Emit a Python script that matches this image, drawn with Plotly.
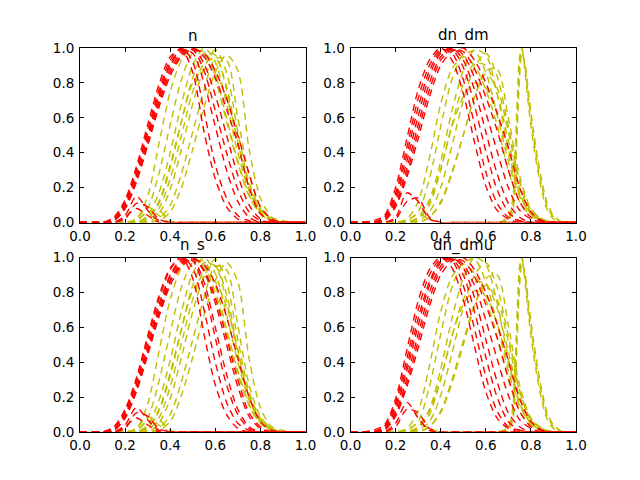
import plotly.graph_objects as go

# common x grid for the bell-shaped curves
X = [0.0, 0.05, 0.1, 0.15, 0.2, 0.25, 0.3, 0.35, 0.4, 0.45, 0.5,
     0.55, 0.6, 0.65, 0.7, 0.75, 0.8, 0.85, 0.9, 0.95, 1.0]

TICK_VALS = [0.0, 0.2, 0.4, 0.6, 0.8, 1.0]
TICK_TEXT = ["0.0", "0.2", "0.4", "0.6", "0.8", "1.0"]
TITLES = ["n", "dn_dm", "n_s", "dn_dmu"]

# ---------------- panel "n" ----------------
N_RED = [
    [0, 0, 0, 0.03, 0.13, 0.32, 0.56, 0.79, 0.95, 0.99, 0.86, 0.52, 0.25, 0.09, 0.02, 0, 0, 0, 0, 0, 0],
    [0, 0, 0, 0.02, 0.12, 0.30, 0.53, 0.76, 0.93, 1.00, 0.92, 0.64, 0.33, 0.14, 0.04, 0.01, 0, 0, 0, 0, 0],
    [0, 0, 0, 0.02, 0.11, 0.29, 0.51, 0.74, 0.91, 0.99, 0.97, 0.80, 0.55, 0.30, 0.12, 0.03, 0, 0, 0, 0, 0],
    [0, 0, 0, 0.01, 0.10, 0.27, 0.49, 0.72, 0.90, 0.98, 0.99, 0.87, 0.64, 0.40, 0.19, 0.06, 0.01, 0, 0, 0, 0],
    [0, 0, 0, 0.01, 0.09, 0.26, 0.47, 0.70, 0.88, 0.97, 1.00, 0.91, 0.73, 0.50, 0.27, 0.10, 0.02, 0, 0, 0, 0],
    [0, 0, 0, 0.01, 0.08, 0.24, 0.45, 0.68, 0.86, 0.96, 1.00, 0.95, 0.83, 0.65, 0.45, 0.20, 0.05, 0.01, 0, 0, 0],
    [0, 0, 0, 0.01, 0.08, 0.23, 0.44, 0.66, 0.84, 0.95, 0.99, 0.97, 0.87, 0.71, 0.50, 0.28, 0.09, 0.02, 0, 0, 0],
]
N_RED_BUMPS = [
    [0, 0, 0, 0, 0.04, 0.15, 0.07, 0.01, 0, 0, 0, 0, 0, 0, 0, 0, 0, 0, 0, 0, 0],
    [0, 0, 0, 0, 0.02, 0.11, 0.09, 0.02, 0, 0, 0, 0, 0, 0, 0, 0, 0, 0, 0, 0, 0],
    [0, 0, 0, 0, 0.03, 0.08, 0.04, 0, 0, 0, 0, 0, 0, 0, 0, 0, 0, 0, 0, 0, 0],
]
N_YEL = [
    [0, 0, 0, 0, 0, 0.02, 0.15, 0.45, 0.75, 0.93, 1.00, 0.96, 0.82, 0.58, 0.34, 0.15, 0.05, 0.01, 0, 0, 0],
    [0, 0, 0, 0, 0, 0.01, 0.08, 0.28, 0.56, 0.82, 0.97, 0.98, 0.85, 0.60, 0.35, 0.16, 0.05, 0.01, 0, 0, 0],
    [0, 0, 0, 0, 0, 0, 0.04, 0.17, 0.40, 0.68, 0.90, 1.00, 0.92, 0.68, 0.40, 0.18, 0.06, 0.01, 0, 0, 0],
    [0, 0, 0, 0, 0, 0, 0.02, 0.11, 0.31, 0.58, 0.83, 0.97, 0.96, 0.76, 0.45, 0.20, 0.07, 0.02, 0, 0, 0],
    [0, 0, 0, 0, 0, 0, 0.01, 0.08, 0.25, 0.50, 0.75, 0.91, 0.94, 0.78, 0.46, 0.20, 0.07, 0.02, 0, 0, 0],
    [0, 0, 0, 0, 0, 0, 0, 0.05, 0.19, 0.42, 0.68, 0.88, 0.99, 0.86, 0.52, 0.23, 0.08, 0.02, 0, 0, 0],
    [0, 0, 0, 0, 0, 0, 0, 0.02, 0.10, 0.28, 0.52, 0.76, 0.94, 0.93, 0.60, 0.27, 0.09, 0.02, 0, 0, 0],
    [0, 0, 0, 0, 0, 0, 0, 0.01, 0.06, 0.20, 0.42, 0.66, 0.86, 0.96, 0.87, 0.42, 0.14, 0.03, 0.01, 0, 0],
    [0, 0, 0, 0, 0, 0, 0.03, 0.12, 0.33, 0.58, 0.80, 0.88, 0.85, 0.72, 0.46, 0.20, 0.07, 0.02, 0, 0, 0],
]
N_YEL_BUMPS = [
    [0, 0, 0, 0, 0, 0.02, 0.09, 0.04, 0, 0, 0, 0, 0, 0, 0, 0, 0, 0, 0, 0, 0],
    [0, 0, 0, 0, 0, 0.01, 0.06, 0.07, 0.01, 0, 0, 0, 0, 0, 0, 0, 0, 0, 0, 0, 0],
]

# ---------------- panel "n_s" ----------------
NS_RED = [
    [0, 0, 0, 0.03, 0.13, 0.31, 0.55, 0.78, 0.94, 1.00, 0.88, 0.56, 0.27, 0.10, 0.02, 0, 0, 0, 0, 0, 0],
    [0, 0, 0, 0.02, 0.12, 0.30, 0.53, 0.76, 0.93, 1.00, 0.94, 0.70, 0.40, 0.17, 0.05, 0.01, 0, 0, 0, 0, 0],
    [0, 0, 0, 0.02, 0.11, 0.28, 0.50, 0.73, 0.90, 0.99, 0.98, 0.82, 0.54, 0.27, 0.10, 0.02, 0, 0, 0, 0, 0],
    [0, 0, 0, 0.01, 0.10, 0.27, 0.48, 0.71, 0.89, 0.98, 0.99, 0.86, 0.60, 0.33, 0.13, 0.03, 0, 0, 0, 0, 0],
    [0, 0, 0, 0.01, 0.09, 0.25, 0.46, 0.69, 0.87, 0.97, 1.00, 0.92, 0.74, 0.50, 0.26, 0.09, 0.02, 0, 0, 0, 0],
    [0, 0, 0, 0.01, 0.08, 0.24, 0.45, 0.67, 0.86, 0.96, 1.00, 0.93, 0.77, 0.54, 0.30, 0.11, 0.03, 0, 0, 0, 0],
    [0, 0, 0, 0.01, 0.08, 0.23, 0.44, 0.66, 0.84, 0.95, 0.99, 0.96, 0.85, 0.66, 0.42, 0.20, 0.06, 0.01, 0, 0, 0],
]
NS_RED_BUMPS = [
    [0, 0, 0, 0, 0.04, 0.14, 0.07, 0.01, 0, 0, 0, 0, 0, 0, 0, 0, 0, 0, 0, 0, 0],
    [0, 0, 0, 0, 0.02, 0.11, 0.09, 0.02, 0, 0, 0, 0, 0, 0, 0, 0, 0, 0, 0, 0, 0],
    [0, 0, 0, 0, 0.03, 0.08, 0.04, 0, 0, 0, 0, 0, 0, 0, 0, 0, 0, 0, 0, 0, 0],
]
NS_YEL = [
    [0, 0, 0, 0, 0, 0.02, 0.16, 0.46, 0.76, 0.94, 1.00, 0.95, 0.80, 0.56, 0.33, 0.15, 0.05, 0.01, 0, 0, 0],
    [0, 0, 0, 0, 0, 0.01, 0.08, 0.29, 0.57, 0.83, 0.97, 0.98, 0.84, 0.59, 0.35, 0.16, 0.05, 0.01, 0, 0, 0],
    [0, 0, 0, 0, 0, 0, 0.04, 0.18, 0.41, 0.69, 0.91, 1.00, 0.91, 0.67, 0.40, 0.18, 0.06, 0.01, 0, 0, 0],
    [0, 0, 0, 0, 0, 0, 0.02, 0.12, 0.32, 0.59, 0.84, 0.97, 0.95, 0.75, 0.45, 0.20, 0.07, 0.02, 0, 0, 0],
    [0, 0, 0, 0, 0, 0, 0.01, 0.08, 0.26, 0.51, 0.76, 0.92, 0.95, 0.79, 0.47, 0.21, 0.07, 0.02, 0, 0, 0],
    [0, 0, 0, 0, 0, 0, 0, 0.05, 0.19, 0.43, 0.69, 0.89, 0.99, 0.86, 0.53, 0.23, 0.08, 0.02, 0, 0, 0],
    [0, 0, 0, 0, 0, 0, 0, 0.02, 0.10, 0.29, 0.53, 0.77, 0.95, 0.93, 0.61, 0.27, 0.09, 0.02, 0, 0, 0],
    [0, 0, 0, 0, 0, 0, 0, 0.01, 0.06, 0.21, 0.43, 0.67, 0.87, 0.97, 0.86, 0.42, 0.14, 0.03, 0.01, 0, 0],
    [0, 0, 0, 0, 0, 0, 0.03, 0.13, 0.34, 0.59, 0.81, 0.89, 0.86, 0.72, 0.46, 0.20, 0.07, 0.02, 0, 0, 0],
]
NS_YEL_BUMPS = [
    [0, 0, 0, 0, 0, 0.02, 0.09, 0.04, 0, 0, 0, 0, 0, 0, 0, 0, 0, 0, 0, 0, 0],
    [0, 0, 0, 0, 0, 0.01, 0.06, 0.07, 0.01, 0, 0, 0, 0, 0, 0, 0, 0, 0, 0, 0, 0],
]

# ---------------- panel "dn_dm" ----------------
DM_RED = [
    [0, 0, 0.01, 0.04, 0.20, 0.48, 0.76, 0.93, 1.00, 0.93, 0.74, 0.46, 0.21, 0.07, 0.02, 0, 0, 0, 0, 0, 0],
    [0, 0, 0, 0.03, 0.17, 0.43, 0.71, 0.90, 0.99, 0.97, 0.82, 0.56, 0.29, 0.11, 0.03, 0.01, 0, 0, 0, 0, 0],
    [0, 0, 0, 0.03, 0.15, 0.39, 0.66, 0.87, 0.98, 0.99, 0.89, 0.67, 0.41, 0.19, 0.06, 0.01, 0, 0, 0, 0, 0],
    [0, 0, 0, 0.02, 0.13, 0.35, 0.61, 0.84, 0.97, 1.00, 0.93, 0.76, 0.52, 0.28, 0.11, 0.03, 0, 0, 0, 0, 0],
    [0, 0, 0, 0.02, 0.11, 0.31, 0.56, 0.80, 0.95, 1.00, 0.96, 0.83, 0.63, 0.41, 0.20, 0.07, 0.02, 0, 0, 0, 0],
    [0, 0, 0, 0.01, 0.10, 0.28, 0.52, 0.76, 0.93, 0.99, 0.98, 0.88, 0.72, 0.53, 0.30, 0.12, 0.03, 0.01, 0, 0, 0],
    [0, 0, 0, 0.01, 0.09, 0.26, 0.48, 0.72, 0.90, 0.98, 1.00, 0.93, 0.80, 0.63, 0.43, 0.20, 0.06, 0.01, 0, 0, 0],
]
DM_RED_BUMPS = [
    [0, 0, 0, 0, 0.03, 0.17, 0.12, 0.02, 0, 0, 0, 0, 0, 0, 0, 0, 0, 0, 0, 0, 0],
    [0, 0, 0, 0, 0.02, 0.12, 0.14, 0.03, 0, 0, 0, 0, 0, 0, 0, 0, 0, 0, 0, 0, 0],
]
DM_YEL = [
    [0, 0, 0, 0, 0, 0.02, 0.12, 0.37, 0.68, 0.88, 0.95, 0.90, 0.76, 0.56, 0.30, 0.12, 0.04, 0.01, 0, 0, 0],
    [0, 0, 0, 0, 0, 0.01, 0.06, 0.25, 0.55, 0.82, 0.96, 0.98, 0.86, 0.62, 0.35, 0.15, 0.05, 0.01, 0, 0, 0],
    [0, 0, 0, 0, 0, 0, 0.03, 0.13, 0.35, 0.64, 0.87, 0.99, 0.96, 0.74, 0.42, 0.17, 0.05, 0.01, 0, 0, 0],
    [0, 0, 0, 0, 0, 0, 0.02, 0.10, 0.30, 0.56, 0.79, 0.91, 0.90, 0.74, 0.47, 0.20, 0.06, 0.01, 0, 0, 0],
    [0, 0, 0, 0, 0, 0, 0.01, 0.06, 0.20, 0.44, 0.70, 0.89, 0.97, 0.84, 0.55, 0.24, 0.07, 0.02, 0, 0, 0],
    [0, 0, 0, 0, 0, 0, 0, 0.03, 0.12, 0.29, 0.50, 0.72, 0.85, 0.77, 0.52, 0.23, 0.07, 0.02, 0, 0, 0],
    [0, 0, 0, 0, 0, 0, 0, 0.03, 0.11, 0.28, 0.50, 0.72, 0.87, 0.88, 0.60, 0.27, 0.08, 0.02, 0, 0, 0],
    [0, 0, 0, 0, 0, 0, 0.03, 0.12, 0.31, 0.55, 0.72, 0.80, 0.77, 0.62, 0.39, 0.16, 0.05, 0.01, 0, 0, 0],
]
DM_YEL_BUMPS = [
    [0, 0, 0, 0, 0, 0.01, 0.05, 0.02, 0, 0, 0, 0, 0, 0, 0, 0, 0, 0, 0, 0, 0],
]
# narrow spike near x = 0.76 (own x positions)
SPIKE_X = [0.66, 0.70, 0.72, 0.73, 0.74, 0.75, 0.76, 0.775, 0.79, 0.81, 0.83, 0.85, 0.87, 0.90, 0.94]
DM_SPIKES = [
    [0, 0.02, 0.10, 0.30, 0.62, 0.90, 1.00, 0.88, 0.70, 0.50, 0.33, 0.20, 0.10, 0.03, 0],
    [0, 0.03, 0.14, 0.38, 0.72, 0.95, 0.99, 0.85, 0.66, 0.46, 0.30, 0.17, 0.08, 0.02, 0],
    [0, 0.01, 0.07, 0.24, 0.55, 0.84, 0.97, 0.90, 0.74, 0.54, 0.37, 0.23, 0.12, 0.04, 0],
]

# ---------------- panel "dn_dmu" ----------------
DMU_RED = [
    [0, 0, 0.01, 0.04, 0.19, 0.47, 0.75, 0.93, 1.00, 0.94, 0.76, 0.49, 0.23, 0.08, 0.02, 0, 0, 0, 0, 0, 0],
    [0, 0, 0, 0.03, 0.17, 0.42, 0.70, 0.90, 0.99, 0.98, 0.84, 0.59, 0.32, 0.12, 0.03, 0.01, 0, 0, 0, 0, 0],
    [0, 0, 0, 0.03, 0.15, 0.38, 0.65, 0.86, 0.98, 0.99, 0.90, 0.69, 0.43, 0.20, 0.06, 0.01, 0, 0, 0, 0, 0],
    [0, 0, 0, 0.02, 0.13, 0.35, 0.61, 0.84, 0.97, 1.00, 0.94, 0.77, 0.53, 0.29, 0.11, 0.03, 0, 0, 0, 0, 0],
    [0, 0, 0, 0.02, 0.11, 0.31, 0.56, 0.80, 0.95, 1.00, 0.96, 0.84, 0.64, 0.42, 0.21, 0.07, 0.02, 0, 0, 0, 0],
    [0, 0, 0, 0.01, 0.10, 0.28, 0.52, 0.76, 0.93, 0.99, 0.98, 0.89, 0.73, 0.54, 0.31, 0.12, 0.03, 0.01, 0, 0, 0],
    [0, 0, 0, 0.01, 0.09, 0.26, 0.48, 0.72, 0.90, 0.98, 1.00, 0.93, 0.80, 0.62, 0.41, 0.19, 0.06, 0.01, 0, 0, 0],
]
DMU_RED_BUMPS = [
    [0, 0, 0, 0, 0.05, 0.17, 0.08, 0.01, 0, 0, 0, 0, 0, 0, 0, 0, 0, 0, 0, 0, 0],
    [0, 0, 0, 0, 0.03, 0.13, 0.11, 0.02, 0, 0, 0, 0, 0, 0, 0, 0, 0, 0, 0, 0, 0],
]
DMU_YEL = [
    [0, 0, 0, 0, 0, 0.02, 0.12, 0.38, 0.69, 0.89, 0.96, 0.91, 0.76, 0.55, 0.30, 0.12, 0.04, 0.01, 0, 0, 0],
    [0, 0, 0, 0, 0, 0.01, 0.06, 0.26, 0.56, 0.83, 0.97, 0.99, 0.86, 0.62, 0.35, 0.15, 0.05, 0.01, 0, 0, 0],
    [0, 0, 0, 0, 0, 0, 0.03, 0.13, 0.36, 0.65, 0.88, 1.00, 0.96, 0.74, 0.42, 0.17, 0.05, 0.01, 0, 0, 0],
    [0, 0, 0, 0, 0, 0, 0.02, 0.10, 0.30, 0.55, 0.76, 0.86, 0.85, 0.71, 0.46, 0.20, 0.06, 0.01, 0, 0, 0],
    [0, 0, 0, 0, 0, 0, 0.01, 0.06, 0.21, 0.45, 0.71, 0.90, 0.97, 0.83, 0.55, 0.24, 0.07, 0.02, 0, 0, 0],
    [0, 0, 0, 0, 0, 0, 0, 0.03, 0.12, 0.30, 0.52, 0.73, 0.84, 0.76, 0.52, 0.23, 0.07, 0.02, 0, 0, 0],
    [0, 0, 0, 0, 0, 0, 0, 0.03, 0.11, 0.28, 0.50, 0.72, 0.88, 0.90, 0.61, 0.27, 0.08, 0.02, 0, 0, 0],
    [0, 0, 0, 0, 0, 0, 0.03, 0.12, 0.31, 0.55, 0.73, 0.81, 0.78, 0.62, 0.39, 0.16, 0.05, 0.01, 0, 0, 0],
]
DMU_YEL_BUMPS = [
    [0, 0, 0, 0, 0, 0.01, 0.05, 0.02, 0, 0, 0, 0, 0, 0, 0, 0, 0, 0, 0, 0, 0],
]
DMU_SPIKES = [
    [0, 0.02, 0.10, 0.30, 0.62, 0.90, 1.00, 0.88, 0.70, 0.50, 0.33, 0.20, 0.10, 0.03, 0],
    [0, 0.03, 0.14, 0.38, 0.72, 0.95, 0.99, 0.85, 0.66, 0.46, 0.30, 0.17, 0.08, 0.02, 0],
    [0, 0.01, 0.07, 0.24, 0.55, 0.84, 0.97, 0.90, 0.74, 0.54, 0.37, 0.23, 0.12, 0.04, 0],
]

RED = "#ff0000"
YELLOW = "#bfbf00"

PANELS = [
    # (axis suffix, yellow curves, yellow bumps, spikes, red curves, red bumps)
    ("", N_YEL, N_YEL_BUMPS, [], N_RED, N_RED_BUMPS),
    ("2", DM_YEL, DM_YEL_BUMPS, DM_SPIKES, DM_RED, DM_RED_BUMPS),
    ("3", NS_YEL, NS_YEL_BUMPS, [], NS_RED, NS_RED_BUMPS),
    ("4", DMU_YEL, DMU_YEL_BUMPS, DMU_SPIKES, DMU_RED, DMU_RED_BUMPS),
]

fig = go.Figure()


def add(xs, ys, color, sfx):
    fig.add_trace(go.Scatter(
        x=xs, y=ys, mode="lines", xaxis="x" + sfx, yaxis="y" + sfx,
        line=dict(color=color, width=1.4, dash="7px,5px", shape="spline", smoothing=0.8),
        hoverinfo="skip", showlegend=False))


for sfx, yel, ybump, spikes, red, rbump in PANELS:
    for ys in yel:
        add(X, ys, YELLOW, sfx)
    for ys in ybump:
        add(X, ys, YELLOW, sfx)
    for ys in spikes:
        add(SPIKE_X, ys, YELLOW, sfx)
    for ys in red:
        add(X, ys, RED, sfx)
    for ys in rbump:
        add(X, ys, RED, sfx)

# the page body has an 8px default margin; compensate so the axes land
# at the reference pixel positions
OFF = 8
W, H = 640, 480
xdom = [[(80 - OFF) / W, (305.5 - OFF) / W], [(350.5 - OFF) / W, (576 - OFF) / W]]
ydom = [[1 - (222.5 - OFF) / H, 1 - (48 - OFF) / H], [1 - (432 - OFF) / H, 1 - (257.5 - OFF) / H]]

axis_common = dict(
    range=[0, 1], tickvals=TICK_VALS, ticktext=TICK_TEXT,
    ticks="inside", ticklen=4, tickwidth=1, tickcolor="black",
    showline=True, linecolor="black", linewidth=1, mirror="allticks",
    showgrid=False, zeroline=False, fixedrange=True, automargin=False,
    tickfont=dict(family="DejaVu Sans", size=13.5, color="black"),
)

layout = dict(width=W, height=H, margin=dict(l=0, r=0, t=0, b=0, autoexpand=False),
              paper_bgcolor="white", plot_bgcolor="white")
annotations = []
for i, sfx in enumerate(["", "2", "3", "4"]):
    row, col = divmod(i, 2)
    layout["xaxis" + sfx] = dict(axis_common, domain=xdom[col], anchor="y" + sfx, ticklabelstandoff=1)
    layout["yaxis" + sfx] = dict(axis_common, domain=ydom[row], anchor="x" + sfx, ticklabelstandoff=2)
    annotations.append(dict(
        text=TITLES[i], xref="paper", yref="paper",
        x=(xdom[col][0] + xdom[col][1]) / 2, y=ydom[row][1],
        xanchor="center", yanchor="bottom", yshift=1, showarrow=False,
        font=dict(family="DejaVu Sans", size=15, color="black")))
layout["annotations"] = annotations

fig.update_layout(**layout)
fig.write_html("out.html")
